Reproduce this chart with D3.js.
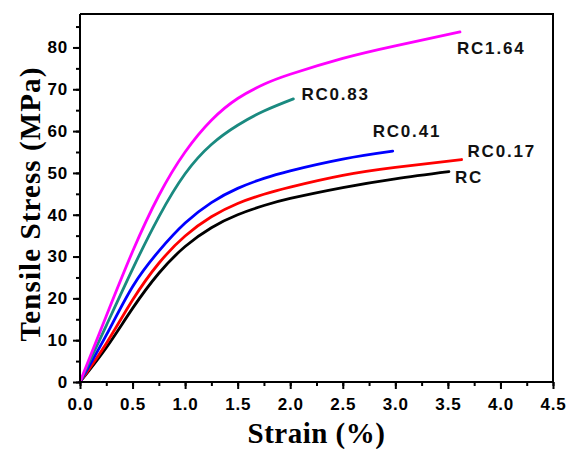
<!DOCTYPE html>
<html>
<head>
<meta charset="utf-8">
<script src="https://cdn.jsdelivr.net/npm/d3@7/dist/d3.min.js"></script>
<style>
  html, body { margin: 0; padding: 0; background: #fff; }
  svg { display: block; }
</style>
</head>
<body>
<svg id="chart" width="567" height="449"></svg>
<script>
// ---- Data ----
const seriesNames = ["RC", "RC0.17", "RC0.41", "RC0.83", "RC1.64"];
const rcStrain     = [0, 0.25, 0.5, 0.75, 1.0, 1.25, 1.5, 1.75, 2.0, 2.5, 3.0, 3.51];
const rcStress     = [0, 8.2, 17.6, 26.0, 32.4, 36.9, 40.0, 42.2, 43.9, 46.5, 48.6, 50.3];
const rc017Strain  = [0, 0.25, 0.5, 0.75, 1.0, 1.25, 1.5, 1.75, 2.0, 2.5, 3.0, 3.63];
const rc017Stress  = [0, 9.2, 19.6, 28.4, 34.9, 39.5, 42.7, 44.9, 46.6, 49.4, 51.3, 53.2];
const rc041Strain  = [0, 0.25, 0.5, 0.75, 1.0, 1.25, 1.5, 1.75, 2.0, 2.5, 2.975];
const rc041Stress  = [0, 11.2, 22.8, 31.3, 38.0, 42.9, 46.3, 48.7, 50.5, 53.3, 55.2];
const rc083Strain  = [0, 0.25, 0.5, 0.75, 1.0, 1.25, 1.5, 1.75, 2.03];
const rc083Stress  = [0, 13.5, 27.0, 39.5, 49.8, 56.8, 61.4, 64.8, 67.7];
const rc164Strain  = [0, 0.25, 0.5, 0.75, 1.0, 1.25, 1.5, 1.75, 2.0, 2.5, 3.0, 3.615];
const rc164Stress  = [0, 15.8, 31.2, 44.6, 55.0, 62.6, 67.8, 71.2, 73.6, 77.4, 80.4, 83.7];
const xTickValues = [0, 0.5, 1.0, 1.5, 2.0, 2.5, 3.0, 3.5, 4.0, 4.5];
const yTickValues = [0, 10, 20, 30, 40, 50, 60, 70, 80];
const xTitle = "Strain (%)";
const yTitle = "Tensile Stress (MPa)";

(function () {
  const strains = [rcStrain, rc017Strain, rc041Strain, rc083Strain, rc164Strain];
  const stresses = [rcStress, rc017Stress, rc041Stress, rc083Stress, rc164Stress];
  const colors = ["#000000", "#ff0000", "#0000ff", "#1a8a80", "#ff00ff"];
  const labelOffsets = [[6, 11], [6, -3], [-20, -14], [8, 1], [-3, 22]];
  const series = seriesNames.map((name, i) => ({
    name,
    color: colors[i],
    off: labelOffsets[i],
    points: strains[i].map((s, j) => [s, stresses[i][j]])
  }));

  const svg = d3.select("#chart");
  const pL = 80, pR = 553, pT = 14, pB = 382;
  const x = d3.scaleLinear().domain([0, 4.5]).range([pL, pR]);
  const y = d3.scaleLinear().domain([0, 88]).range([pB, pT]);

  const tickFont = "'Liberation Sans', Arial, sans-serif";
  const titleFont = "'Liberation Serif', 'Times New Roman', serif";

  // frame (top & right)
  svg.append("path")
    .attr("d", `M${pL},${pT}H${pR}V${pB}`)
    .attr("fill", "none").attr("stroke", "#000").attr("stroke-width", 2);

  // curves
  const line = d3.line().x(d => x(d[0])).y(d => y(d[1])).curve(d3.curveNatural);
  svg.append("g").selectAll("path").data(series).join("path")
    .attr("d", d => line(d.points))
    .attr("fill", "none")
    .attr("stroke", d => d.color)
    .attr("stroke-width", 2.8)
    .attr("stroke-linecap", "round");

  // x axis
  const xMinor = d3.range(0, 4.5001, 0.25);
  const gx = svg.append("g").attr("transform", `translate(0,${pB})`);
  gx.call(d3.axisBottom(x).tickValues(xMinor).tickSize(4).tickFormat(""));
  gx.selectAll(".domain").remove();
  const gx2 = svg.append("g").attr("transform", `translate(0,${pB})`);
  gx2.call(d3.axisBottom(x).tickValues(xTickValues).tickSize(7).tickPadding(5)
    .tickFormat(d3.format(".1f")));
  gx2.selectAll(".domain").attr("stroke-width", 2).attr("d", `M${pL},0H${pR}`);
  gx2.selectAll("text")
    .attr("font-family", tickFont).attr("font-size", 17).attr("font-weight", "bold")
    .attr("letter-spacing", "0.8px").attr("fill", "#000").attr("dy", "0.95em");

  // y axis
  const yMinor = d3.range(0, 86, 5);
  const gy = svg.append("g").attr("transform", `translate(${pL},0)`);
  gy.call(d3.axisLeft(y).tickValues(yMinor).tickSize(4).tickFormat(""));
  gy.selectAll(".domain").remove();
  const gy2 = svg.append("g").attr("transform", `translate(${pL},0)`);
  gy2.call(d3.axisLeft(y).tickValues(yTickValues).tickSize(7).tickPadding(5));
  gy2.selectAll(".domain").attr("stroke-width", 2).attr("d", `M0,${pT}V${pB}`);
  gy2.selectAll("text")
    .attr("font-family", tickFont).attr("font-size", 17).attr("font-weight", "bold")
    .attr("letter-spacing", "0.8px").attr("fill", "#000");
  svg.selectAll(".tick line").attr("stroke-width", 2);

  // series labels
  svg.append("g").selectAll("text").data(series).join("text")
    .attr("x", d => x(d.points[d.points.length - 1][0]) + d.off[0])
    .attr("y", d => y(d.points[d.points.length - 1][1]) + d.off[1])
    .attr("font-family", tickFont).attr("font-size", 17).attr("font-weight", "bold")
    .attr("letter-spacing", "1.8px")
    .attr("fill", "#111")
    .text(d => d.name);

  // axis titles
  svg.append("text")
    .attr("x", (pL + pR) / 2).attr("y", 443)
    .attr("text-anchor", "middle")
    .attr("font-family", titleFont).attr("font-size", 29).attr("font-weight", "bold")
    .attr("letter-spacing", "0.5px")
    .text(xTitle);
  svg.append("text")
    .attr("transform", `translate(40,204) rotate(-90)`)
    .attr("text-anchor", "middle")
    .attr("font-family", titleFont).attr("font-size", 29).attr("font-weight", "bold")
    .attr("letter-spacing", "1.1px")
    .text(yTitle);
})();
</script>
</body>
</html>
